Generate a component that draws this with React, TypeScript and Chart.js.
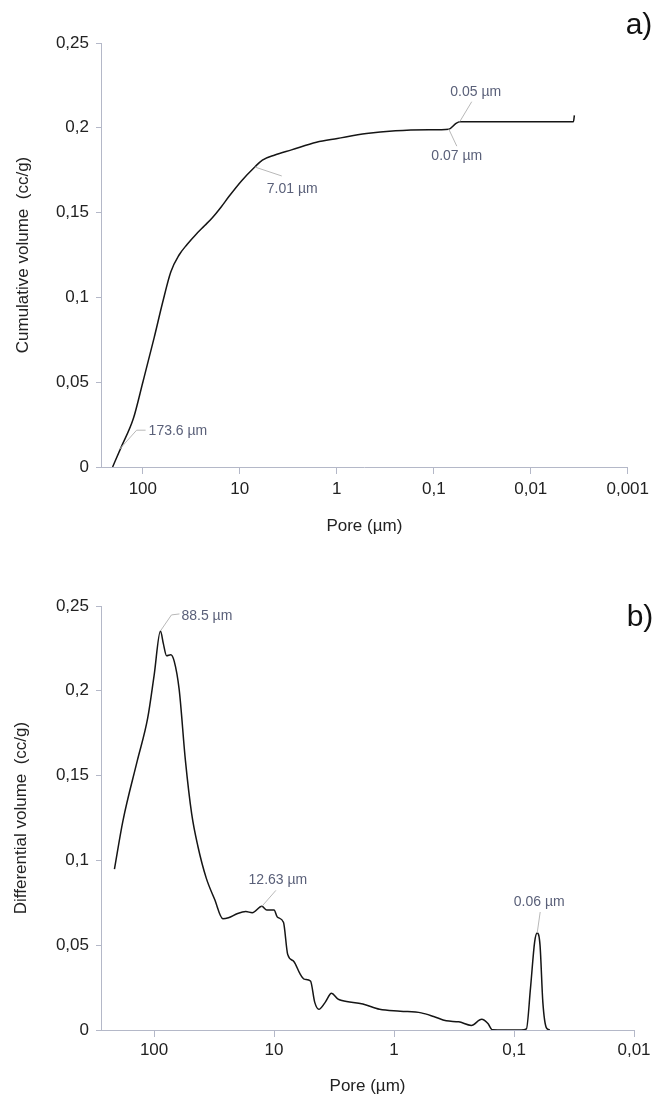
import React, { useEffect, useRef } from 'react';
import { Chart, registerables } from 'chart.js';

Chart.register(...registerables);

// ---------- data ----------
const CUM_PORE = [205, 168, 125, 100, 76.4, 62.7, 51.5, 42.3, 35, 28.5, 23, 19.2, 15.5, 12.9, 9.57, 7.01, 5.85, 4.35, 2.93, 1.62, 0.987, 0.495, 0.248, 0.112, 0.07, 0.059, 0.054, 0.00363, 0.00355];
const CUM_VOL = [0, 0.0114, 0.0287, 0.05, 0.0763, 0.0967, 0.115, 0.125, 0.1312, 0.137, 0.1424, 0.147, 0.1535, 0.1596, 0.1688, 0.1769, 0.181, 0.184, 0.187, 0.1915, 0.1937, 0.1966, 0.1982, 0.1988, 0.1992, 0.2026, 0.2036, 0.2036, 0.2073];

const DIFF_PORE = [214, 182, 138, 113, 100, 88.5, 83.8, 78.7, 72.6, 68, 61.8, 54.8, 48.6, 43.2, 36.8, 31.3, 26.7, 24.0, 20.1, 17.2, 15.2, 12.63, 11.5, 10, 9.4, 8.35, 7.7, 6.84, 6.07, 5.6, 4.97, 4.58, 4.23, 3.75, 3.32, 2.95, 2.72, 1.82, 1.32, 0.887, 0.594, 0.468, 0.367, 0.289, 0.227, 0.186, 0.165, 0.152, 0.0869, 0.0789, 0.0729, 0.0673, 0.0641, 0.0607, 0.0575, 0.0537, 0.0503];
const DIFF_VOL = [0.0949, 0.1232, 0.1588, 0.184, 0.209, 0.2353, 0.228, 0.2207, 0.2213, 0.2175, 0.2008, 0.1588, 0.1274, 0.1085, 0.0897, 0.0771, 0.0656, 0.0662, 0.0687, 0.0698, 0.0692, 0.0729, 0.0708, 0.0708, 0.0666, 0.0635, 0.0446, 0.0404, 0.0331, 0.03, 0.0289, 0.0163, 0.0122, 0.0163, 0.0216, 0.0184, 0.0174, 0.0153, 0.0122, 0.0111, 0.0101, 0.008, 0.0054, 0.0048, 0.0027, 0.0063, 0.0038, 0.0002, 0, 0.0006, 0.0247, 0.052, 0.0572, 0.0499, 0.0163, 0.0013, 0];

const X_TICKS_A = [100, 10, 1, 0.1, 0.01, 0.001];
const X_TICKS_B = [100, 10, 1, 0.1, 0.01];
const Y_TICKS = [0, 0.05, 0.1, 0.15, 0.2, 0.25];

const LABELS_A = [
  { label: '173.6 µm', x: 173.6, y: 0.0105 },
  { label: '7.01 µm', x: 7.01, y: 0.1769 },
  { label: '0.07 µm', x: 0.07, y: 0.1992 },
  { label: '0.05 µm', x: 0.054, y: 0.2036 },
];
const LABELS_B = [
  { label: '88.5 µm', x: 88.5, y: 0.2353 },
  { label: '12.63 µm', x: 12.63, y: 0.0729 },
  { label: '0.06 µm', x: 0.0641, y: 0.0572 },
];

// ---------- styling ----------
const FONT = "'Liberation Sans', Arial, Helvetica, sans-serif";
const TEXT = '#222222';
const AXIS = '#b4b8c8';
const LEADER = '#b8b8b8';
const NOTE = '#5a6079';

// leader path offsets and text offsets (pixels), per label index
const LAYOUT_A = [
  { path: [[17, -19], [26, -19]], tx: 29, ty: -18, align: 'left' },
  { path: [[27, 9]], tx: 12, ty: 22, align: 'left' },
  { path: [[8, 17]], tx: 8, ty: 27, align: 'center' },
  { path: [[12, -20]], tx: 16, ty: -30, align: 'center' },
];
const LAYOUT_B = [
  { path: [[11, -16], [19, -17]], tx: 21, ty: -15, align: 'left' },
  { path: [[14, -16]], tx: 16, ty: -26, align: 'center' },
  { path: [[3, -21]], tx: 2, ty: -31, align: 'center' },
];

function fmt(v: number): string {
  return String(Number(Number(v).toFixed(3))).replace('.', ',');
}

function makeNotes(labels: any[], layout: any[], letter: string, lx: number, ly: number) {
  return {
    id: 'notes_' + letter,
    afterDatasetsDraw(chart: any) {
      const { ctx } = chart;
      const xs = chart.scales.x;
      const ys = chart.scales.y;
      labels.forEach((a, i) => {
        const l = layout[i];
        const px = xs.getPixelForValue(a.x);
        const py = ys.getPixelForValue(a.y);
        ctx.save();
        ctx.strokeStyle = LEADER;
        ctx.lineWidth = 1;
        ctx.beginPath();
        ctx.moveTo(px, py);
        l.path.forEach((p: number[]) => ctx.lineTo(px + p[0], py + p[1]));
        ctx.stroke();
        ctx.fillStyle = NOTE;
        ctx.font = `14px ${FONT}`;
        ctx.textAlign = l.align;
        ctx.textBaseline = 'middle';
        ctx.fillText(a.label, px + l.tx, py + l.ty);
        ctx.restore();
      });
      ctx.save();
      ctx.fillStyle = '#111111';
      ctx.font = `30px ${FONT}`;
      ctx.textAlign = 'center';
      ctx.textBaseline = 'middle';
      ctx.fillText(letter, lx, ly);
      ctx.restore();
    },
  };
}

function buildConfig(opts: any) {
  const points = opts.pores.map((p: number, i: number) => ({ x: p, y: opts.vols[i] }));
  return {
    type: 'line',
    data: {
      datasets: [
        {
          data: points,
          borderColor: '#151515',
          borderWidth: 1.5,
          pointRadius: 0,
          cubicInterpolationMode: 'monotone',
          fill: false,
        },
      ],
    },
    options: {
      responsive: false,
      maintainAspectRatio: false,
      animation: false,
      layout: { padding: { top: opts.padTop, right: opts.padRight, left: 0, bottom: 0 } },
      plugins: { legend: { display: false }, tooltip: { enabled: false } },
      scales: {
        x: {
          type: 'logarithmic',
          reverse: true,
          min: opts.xMin,
          max: opts.xMax,
          afterBuildTicks: (s: any) => {
            s.ticks = opts.xTicks.map((v: number) => ({ value: v }));
          },
          afterFit: (s: any) => {
            s.height = opts.xHeight;
          },
          ticks: {
            callback: (v: any) => fmt(Number(v)),
            font: { family: FONT, size: 17 },
            color: TEXT,
            padding: opts.xTickPad,
            autoSkip: false,
            maxRotation: 0,
          },
          grid: { drawOnChartArea: false, drawTicks: true, tickLength: 7, color: AXIS },
          border: { display: true, color: AXIS, width: 1 },
          title: {
            display: true,
            text: 'Pore (µm)',
            font: { family: FONT, size: 17 },
            color: TEXT,
            padding: { top: 0, bottom: opts.xTitlePad },
          },
        },
        y: {
          type: 'linear',
          min: 0,
          max: 0.25,
          afterBuildTicks: (s: any) => {
            s.ticks = Y_TICKS.map((v) => ({ value: v }));
          },
          afterFit: (s: any) => {
            s.width = 101;
          },
          ticks: {
            callback: (v: any) => fmt(Number(v)),
            font: { family: FONT, size: 17 },
            color: TEXT,
            padding: 7,
          },
          grid: { drawOnChartArea: false, drawTicks: true, tickLength: 5, color: AXIS },
          border: { display: true, color: AXIS, width: 1 },
          title: {
            display: true,
            text: opts.yTitle,
            font: { family: FONT, size: 17 },
            color: TEXT,
            padding: { top: opts.yTitlePad, bottom: 0 },
          },
        },
      },
    },
    plugins: [opts.plugin],
  };
}

export default function App() {
  const refA = useRef<HTMLCanvasElement | null>(null);
  const refB = useRef<HTMLCanvasElement | null>(null);

  useEffect(() => {
    const cfgA = buildConfig({
      pores: CUM_PORE,
      vols: CUM_VOL,
      xMin: 0.001,
      xMax: 270,
      xTicks: X_TICKS_A,
      padTop: 43,
      padRight: 25,
      xHeight: 73,
      xTickPad: 5,
      xTitlePad: 3,
      yTitle: 'Cumulative volume  (cc/g)',
      yTitlePad: 13,
      plugin: makeNotes(LABELS_A, LAYOUT_A, 'a)', 639, 26),
    });
    const cfgB = buildConfig({
      pores: DIFF_PORE,
      vols: DIFF_VOL,
      xMin: 0.01,
      xMax: 277,
      xTicks: X_TICKS_B,
      padTop: 66,
      padRight: 20,
      xHeight: 67,
      xTickPad: 3,
      xTitlePad: 0,
      yTitle: 'Differential volume  (cc/g)',
      yTitlePad: 11,
      plugin: makeNotes(LABELS_B, LAYOUT_B, 'b)', 640, 78),
    });
    const a = new Chart(refA.current as HTMLCanvasElement, cfgA as any);
    const b = new Chart(refB.current as HTMLCanvasElement, cfgB as any);
    return () => {
      a.destroy();
      b.destroy();
    };
  }, []);

  return (
    <div style={{ position: 'absolute', left: 0, top: 0, width: 654, height: 1097, background: '#ffffff' }}>
      <canvas ref={refA} width={654} height={540} style={{ display: 'block', width: 654, height: 540 }} />
      <canvas ref={refB} width={654} height={557} style={{ display: 'block', width: 654, height: 557 }} />
    </div>
  );
}
